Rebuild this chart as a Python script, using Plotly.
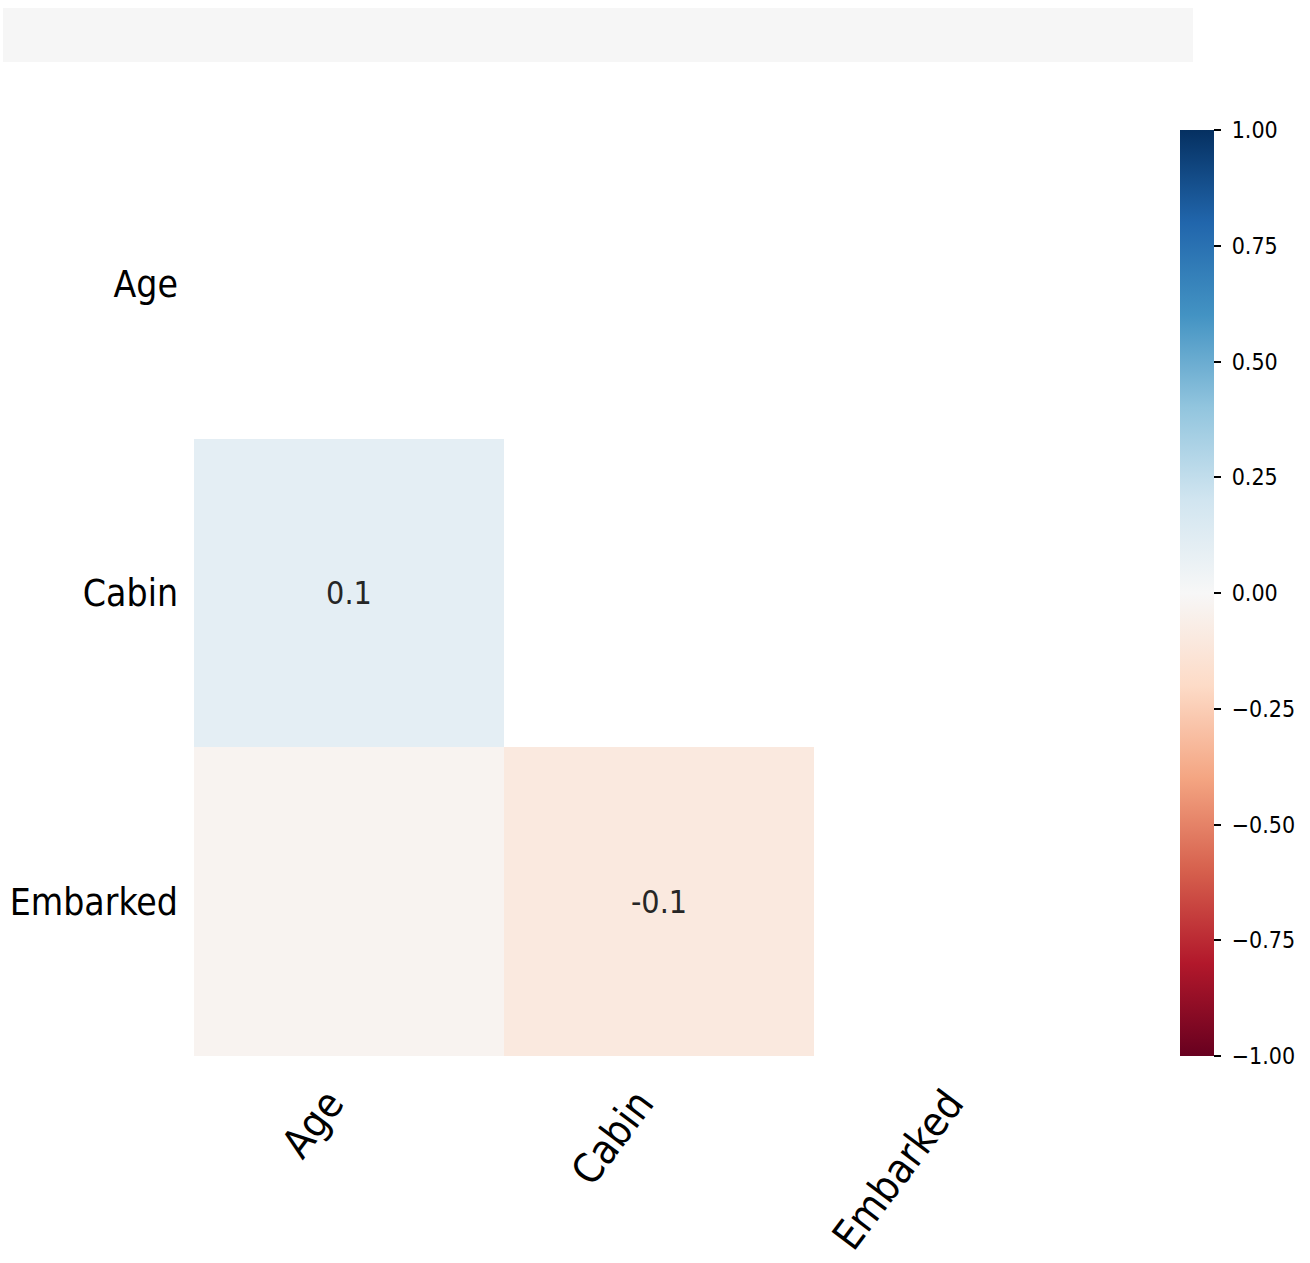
import plotly.graph_objects as go

# Nullity correlation between columns with missing values
columns = ["Age", "Cabin", "Embarked"]
rows = ["Age", "Cabin", "Embarked"]

# Lower triangle only; upper triangle and diagonal are masked (None)
corr_age = [None, None, None]
corr_cabin = [0.1, None, None]
corr_embarked = [-0.03, -0.1, None]
corr = [corr_age, corr_cabin, corr_embarked]

colorbar_ticks = [-1.0, -0.75, -0.5, -0.25, 0.0, 0.25, 0.5, 0.75, 1.0]

# ColorBrewer RdBu (red = negative, blue = positive)
rdbu = ["#67001f", "#b2182b", "#d6604d", "#f4a582", "#fddbc7", "#f7f7f7",
        "#d1e5f0", "#92c5de", "#4393c3", "#2166ac", "#053061"]
colorscale = [[i / (len(rdbu) - 1), c] for i, c in enumerate(rdbu)]


def cell_label(v):
    if v is None:
        return ""
    if v == 1:
        return "1"
    if v == -1:
        return "-1"
    if -0.05 < v < 0.05:
        return ""
    return str(round(v, 1))


labels = [[cell_label(v) for v in r] for r in corr]


def tick_text(v):
    s = f"{v:.2f}"
    return " " + s.replace("-", "\u2212")


FONT = "DejaVu Sans Condensed, DejaVu Sans, sans-serif"

fig = go.Figure(
    go.Heatmap(
        z=corr,
        x=columns,
        y=rows,
        zmin=-1,
        zmax=1,
        colorscale=colorscale,
        text=labels,
        texttemplate="%{text}",
        textfont=dict(family=FONT, size=32, color="#262626"),
        hoverongaps=False,
        xgap=0,
        ygap=0,
        colorbar=dict(
            x=1.0602,
            xanchor="left",
            xpad=0,
            y=0.5,
            yanchor="middle",
            ypad=0,
            len=1.0,
            lenmode="fraction",
            thickness=34,
            thicknessmode="pixels",
            outlinewidth=0,
            ticks="outside",
            ticklen=7,
            tickwidth=1.5,
            tickcolor="#000000",
            tickvals=colorbar_ticks,
            ticktext=[tick_text(v) for v in colorbar_ticks],
            tickfont=dict(family=FONT, size=23, color="#000000"),
        ),
    )
)

fig.update_xaxes(
    showgrid=False,
    zeroline=False,
    showline=False,
    ticks="",
    tickangle=-53,
    automargin=False,
    tickfont=dict(family=FONT, size=41, color="#000000"),
    ticklabelstandoff=14,
    ticklabelshift=-20,
)
fig.update_yaxes(
    showgrid=False,
    zeroline=False,
    showline=False,
    ticks="",
    autorange="reversed",
    automargin=False,
    tickfont=dict(family=FONT, size=37, color="#000000"),
    ticklabelstandoff=15,
)

# Light grey header band across the top of the figure
fig.add_shape(
    type="rect",
    xref="paper",
    yref="paper",
    x0=-0.2054,
    x1=1.0742,
    y0=1.0734,
    y1=1.1317,
    fillcolor="#f6f6f6",
    line=dict(width=0),
    layer="below",
)

fig.update_layout(
    width=1310,
    height=1263,
    margin=dict(l=194, r=186, t=130, b=207, autoexpand=False),
    paper_bgcolor="#ffffff",
    plot_bgcolor="#ffffff",
    showlegend=False,
)

fig.write_html("out.html")
